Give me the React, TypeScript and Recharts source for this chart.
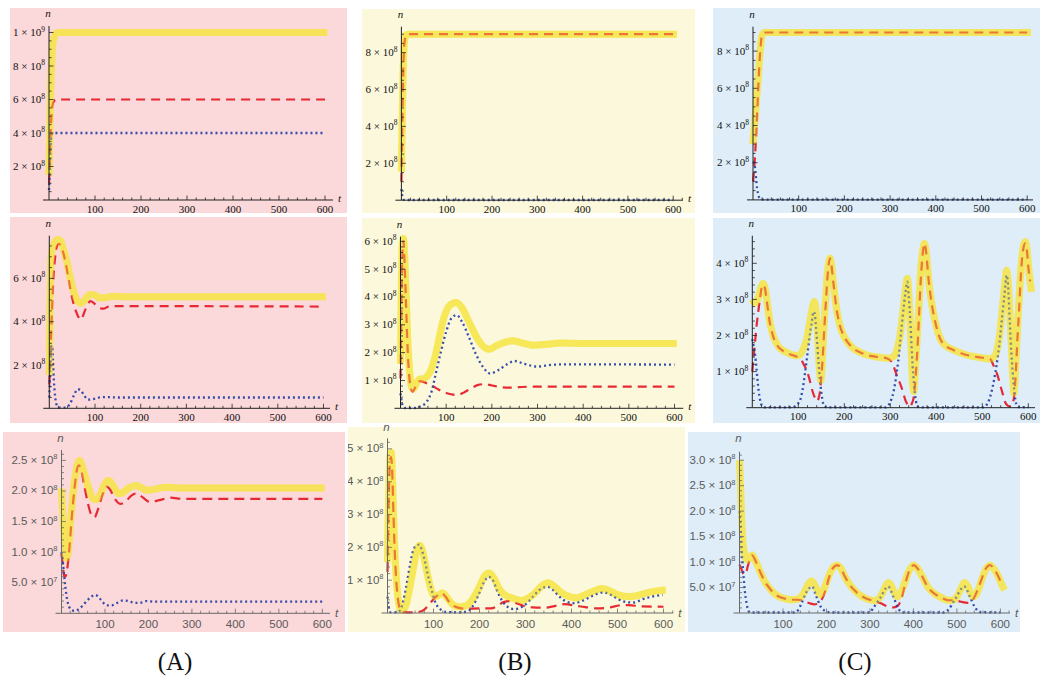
import React from 'react';
import { LineChart, Line, XAxis, YAxis } from 'recharts';

type Pt = [number, number];

// n is given in units of 1e8, t in time units.
// ---------- Column A, row 1 ----------
const A1_total: Pt[] = [[0,1.5],[1,2.8],[2,4.3],[3,5.6],[4,6.7],[5,7.6],[6,8.3],[7,8.8],[8,9.2],[10,9.6],[12,9.8],[15,9.93],[20,10],[30,10],[605,10]];
const A1_host: Pt[] = [[0,1.0],[2,2.5],[4,4.3],[6,5.3],[8,5.7],[11,5.9],[15,5.98],[20,6],[600,6]];
const A1_para: Pt[] = [[0,0.6],[1,1.3],[2,2.1],[3,2.9],[4,3.5],[5,3.8],[7,3.97],[10,4],[600,4]];
// ---------- Column B, row 1 ----------
const B1_total: Pt[] = [[0,1.55],[1,3.0],[2,4.6],[3,6.0],[4,7.1],[5,7.9],[6,8.4],[8,8.8],[10,8.95],[14,9.0],[608,9.0]];
const B1_host: Pt[] = [[0,1.0],[1,2.6],[2,4.2],[3,5.6],[4,6.8],[5,7.7],[6,8.3],[8,8.75],[10,8.92],[14,9.0],[600,9.0]];
const B1_para: Pt[] = [[0,0.6],[1,0.4],[2,0.2],[3,0.1],[5,0.03],[8,0.01],[600,0.01]];
// ---------- Column C, row 1 ----------
const C1_total: Pt[] = [[0,3.0],[4,4.2],[8,5.5],[12,6.8],[15,7.8],[18,8.6],[21,8.92],[25,9.0],[608,9.0]];
const C1_host: Pt[] = [[0,1.0],[3,1.8],[5,2.6],[7,3.5],[9,4.6],[12,6.3],[15,7.7],[18,8.6],[21,8.92],[25,9.0],[600,9.0]];
const C1_para: Pt[] = [[0,2.05],[3,1.95],[5,1.6],[7,1.1],[9,0.6],[11,0.35],[14,0.1],[18,0.02],[600,0.01]];
// ---------- Column A, row 2 ----------
const A2_total: Pt[] = [[0,1.55],[2,5.0],[4,6.9],[7,7.4],[12,7.65],[18,7.8],[24,7.75],[30,7.4],[38,6.8],[46,6.0],[54,5.35],[62,4.95],[70,4.85],[78,5.0],[88,5.25],[98,5.25],[110,5.1],[125,5.12],[140,5.18],[160,5.15],[605,5.15]];
const A2_host: Pt[] = [[0,1.1],[3,2.8],[6,4.6],[9,6.0],[13,7.0],[17,7.5],[21,7.6],[27,7.4],[34,6.9],[42,6.0],[50,5.1],[58,4.5],[66,4.15],[70,4.1],[76,4.4],[84,4.8],[90,4.95],[98,4.85],[108,4.65],[118,4.6],[130,4.7],[145,4.72],[600,4.7]];
const A2_para: Pt[] = [[0,0.5],[2,1.8],[4,2.7],[6,2.9],[8,2.2],[10,1.3],[13,0.5],[17,0.12],[22,0.03],[35,0.03],[45,0.2],[54,0.6],[62,0.88],[68,0.85],[76,0.6],[85,0.4],[95,0.42],[110,0.5],[125,0.52],[145,0.5],[600,0.5]];
// ---------- Column B, row 2 ----------
const B2_total: Pt[] = [[0,1.6],[2,4.5],[4,5.9],[6.5,6.1],[9,5.5],[12,4.2],[16,2.4],[20,1.3],[24,0.8],[28,0.7],[35,0.9],[42,1.05],[50,1.05],[58,1.15],[66,1.35],[75,1.8],[85,2.55],[95,3.25],[108,3.7],[122,3.8],[135,3.6],[150,3.1],[165,2.6],[180,2.25],[195,2.12],[210,2.25],[230,2.38],[245,2.43],[265,2.35],[290,2.27],[320,2.3],[350,2.35],[400,2.33],[605,2.33]];
const B2_host: Pt[] = [[0,1.07],[2,3.5],[4,5.5],[6.5,6.0],[9,5.2],[12,3.8],[16,2.0],[20,1.0],[24,0.65],[27,0.6],[32,0.75],[38,0.93],[43,0.98],[50,0.95],[60,0.88],[72,0.78],[85,0.66],[100,0.55],[115,0.49],[125,0.48],[140,0.58],[155,0.72],[170,0.84],[185,0.87],[200,0.82],[220,0.76],[240,0.74],[260,0.76],[290,0.78],[600,0.78]];
const B2_para: Pt[] = [[0,0.54],[3,0.2],[6,0.05],[10,0.01],[30,0.01],[45,0.08],[58,0.25],[68,0.6],[78,1.3],[88,2.0],[100,2.75],[112,3.25],[123,3.35],[135,3.1],[150,2.55],[165,1.95],[180,1.5],[196,1.25],[215,1.38],[235,1.6],[250,1.7],[270,1.6],[300,1.5],[330,1.56],[360,1.58],[600,1.57]];
// ---------- Column C, row 2 ----------
const C2_total: Pt[] = [[0,3.0],[3,2.93],[6,2.9],[10,2.95],[15,3.15],[20,3.38],[24,3.44],[28,3.3],[31,3.03],[35,2.65],[38,2.38],[42,2.15],[46,1.97],[52,1.8],[57,1.69],[65,1.6],[75,1.53],[86,1.47],[96,1.44],[104,1.47],[110,1.6],[118,1.88],[124,2.3],[129,2.66],[135,2.94],[139,2.6],[143,1.8],[146,1.1],[149,0.75],[152,1.3],[156,2.29],[160,3.1],[163,3.67],[166,4.0],[169,4.14],[172,3.95],[176,3.49],[183,2.75],[190,2.3],[198,2.01],[208,1.8],[220,1.64],[235,1.53],[249,1.46],[270,1.41],[292,1.37],[302,1.39],[310,1.45],[316,1.68],[321,1.98],[326,2.5],[330,2.94],[334,3.4],[337,3.58],[340,3.2],[344,2.1],[347,1.1],[351,0.45],[355,1.2],[359,2.1],[363,3.0],[366,3.77],[370,4.3],[374,4.55],[378,4.3],[383,3.58],[388,3.05],[393,2.66],[400,2.25],[408,1.92],[420,1.72],[437,1.6],[452,1.52],[466,1.46],[490,1.4],[517,1.35],[525,1.4],[530,1.5],[534,1.72],[538,2.05],[542,2.55],[546,3.05],[550,3.55],[553,3.81],[556,3.5],[560,2.57],[564,1.5],[569,0.4],[573,1.3],[576,2.1],[580,3.0],[583,3.67],[587,4.25],[593,4.6],[597,4.4],[600,3.95],[604,3.5],[607,3.21]];
const C2_host: Pt[] = [[0,1.0],[3,1.45],[6,1.83],[10,2.35],[13,2.66],[17,3.05],[20,3.3],[24,3.4],[28,3.28],[31,3.0],[35,2.63],[38,2.36],[42,2.13],[46,1.95],[52,1.78],[57,1.68],[65,1.59],[75,1.52],[86,1.46],[96,1.42],[104,1.37],[111,1.22],[118,1.04],[124,0.8],[129,0.54],[136,0.28],[141,0.18],[144,0.25],[147,0.44],[150,0.85],[153,1.37],[157,2.3],[160,2.94],[164,3.7],[169,4.14],[172,3.95],[176,3.49],[183,2.75],[190,2.3],[198,2.01],[208,1.8],[220,1.64],[235,1.53],[249,1.46],[270,1.41],[292,1.37],[303,1.27],[314,0.9],[325,0.54],[334,0.17],[339,0.06],[343,0.03],[347,0.12],[351,0.3],[355,0.85],[359,1.64],[363,2.7],[366,3.49],[370,4.2],[374,4.55],[378,4.3],[383,3.58],[388,3.05],[393,2.66],[400,2.25],[408,1.92],[420,1.72],[437,1.6],[452,1.52],[466,1.46],[490,1.4],[517,1.35],[524,1.18],[533,0.9],[542,0.49],[551,0.12],[556,0.05],[562,0.03],[566,0.12],[569,0.3],[573,1.0],[576,1.83],[580,2.7],[583,3.49],[587,4.2],[593,4.55],[597,4.35],[600,3.9],[604,3.5]];
const C2_para: Pt[] = [[0,1.9],[3,1.7],[6,1.46],[9,1.1],[11,0.81],[14,0.45],[17,0.21],[20,0.08],[22,0.03],[26,0.01],[88,0.01],[93,0.04],[98,0.1],[104,0.21],[109,0.48],[114,0.9],[119,1.4],[124,1.92],[129,2.35],[133,2.66],[136,2.6],[138,2.29],[141,1.8],[144,1.27],[147,0.8],[149,0.54],[152,0.25],[154,0.12],[158,0.03],[162,0.01],[290,0.01],[296,0.07],[302,0.22],[307,0.44],[312,0.8],[317,1.27],[322,1.9],[328,2.66],[333,3.2],[337,3.49],[340,3.1],[344,2.29],[347,1.5],[350,0.9],[353,0.45],[356,0.17],[359,0.05],[363,0.01],[503,0.01],[509,0.07],[515,0.22],[520,0.44],[526,0.8],[531,1.18],[537,1.75],[542,2.38],[548,3.1],[553,3.67],[556,3.4],[560,2.29],[563,1.55],[566,1.0],[569,0.55],[572,0.21],[575,0.07],[578,0.02],[600,0.01]];
// ---------- Column A, row 3 ----------
const A3_total: Pt[] = [[0,2.04],[3,1.6],[6,1.2],[9,0.95],[12,0.9],[16,1.05],[21,1.5],[27,1.98],[33,2.3],[38,2.47],[42,2.5],[47,2.42],[53,2.27],[60,2.1],[68,1.93],[76,1.86],[82,1.86],[90,1.95],[100,2.12],[108,2.17],[116,2.12],[124,2.02],[131,1.96],[140,1.97],[155,2.05],[172,2.09],[185,2.05],[197,2.01],[215,2.03],[240,2.06],[270,2.05],[300,2.05],[605,2.05]];
const A3_host: Pt[] = [[0,0.97],[3,0.78],[6,0.62],[9,0.6],[13,0.72],[18,1.05],[24,1.6],[30,2.05],[35,2.33],[40,2.42],[45,2.35],[52,2.1],[60,1.82],[68,1.62],[76,1.57],[84,1.7],[94,1.93],[104,2.07],[112,2.02],[122,1.88],[135,1.79],[148,1.83],[160,1.92],[173,1.96],[186,1.9],[204,1.82],[225,1.85],[250,1.89],[280,1.87],[600,1.87]];
const A3_para: Pt[] = [[0,1.0],[3,0.85],[6,0.62],[9,0.42],[13,0.22],[18,0.1],[24,0.05],[30,0.04],[38,0.06],[48,0.12],[58,0.2],[68,0.27],[78,0.3],[86,0.26],[95,0.18],[104,0.13],[115,0.13],[128,0.17],[142,0.21],[155,0.2],[168,0.17],[180,0.17],[195,0.2],[215,0.19],[600,0.19]];
// ---------- Column B, row 3 ----------
const B3_total: Pt[] = [[0,1.55],[2,3.2],[4,4.4],[6,4.85],[8,4.9],[11,4.0],[15,2.2],[19,1.1],[23,0.44],[27,0.15],[31,0.08],[36,0.12],[41,0.28],[46,0.6],[52,1.05],[58,1.5],[63,1.86],[70,2.06],[76,1.9],[82,1.5],[88,1.1],[95,0.7],[103,0.5],[112,0.56],[120,0.61],[128,0.5],[140,0.28],[155,0.19],[170,0.22],[185,0.42],[198,0.74],[212,1.15],[221,1.22],[232,1.05],[242,0.75],[255,0.55],[270,0.46],[290,0.38],[305,0.45],[320,0.6],[335,0.82],[348,0.92],[362,0.82],[378,0.62],[395,0.5],[412,0.46],[430,0.56],[450,0.68],[466,0.75],[482,0.68],[500,0.56],[520,0.5],[540,0.52],[560,0.6],[580,0.66],[605,0.7]];
const B3_host: Pt[] = [[0,1.25],[2,3.0],[4,4.2],[6,4.7],[8,4.75],[10,4.4],[13,3.0],[16,1.8],[20,0.8],[24,0.3],[28,0.08],[32,0.03],[60,0.02],[75,0.06],[88,0.22],[100,0.42],[110,0.55],[118,0.6],[126,0.5],[136,0.3],[150,0.18],[170,0.13],[200,0.14],[225,0.14],[240,0.22],[252,0.33],[265,0.36],[280,0.3],[295,0.22],[315,0.17],[340,0.16],[360,0.2],[385,0.27],[410,0.22],[430,0.18],[455,0.14],[480,0.16],[505,0.23],[525,0.24],[550,0.2],[600,0.19]];
const B3_para: Pt[] = [[0,0.5],[2,0.25],[4,0.08],[7,0.02],[22,0.02],[28,0.1],[34,0.34],[40,0.75],[45,1.15],[50,1.55],[55,1.86],[62,2.05],[69,2.08],[75,1.9],[81,1.6],[87,1.2],[92,0.92],[98,0.6],[103,0.36],[110,0.18],[118,0.08],[128,0.03],[160,0.02],[175,0.06],[185,0.2],[198,0.56],[210,0.95],[220,1.1],[228,1.02],[240,0.62],[250,0.36],[262,0.18],[275,0.12],[285,0.14],[300,0.26],[315,0.48],[330,0.7],[348,0.8],[360,0.7],[375,0.48],[390,0.34],[405,0.3],[425,0.38],[445,0.52],[470,0.63],[485,0.56],[502,0.42],[520,0.33],[535,0.32],[555,0.42],[575,0.5],[598,0.55]];
// ---------- Column C, row 3 ----------
const C3_total: Pt[] = [[0,3.0],[2,2.6],[4,2.05],[6,1.65],[9,1.3],[13,1.1],[19,1.04],[24,1.1],[29,1.14],[35,1.06],[42,0.92],[50,0.76],[58,0.62],[66,0.52],[78,0.4],[89,0.33],[105,0.28],[120,0.26],[133,0.27],[143,0.33],[152,0.46],[159,0.58],[166,0.63],[173,0.55],[180,0.42],[186,0.36],[192,0.42],[200,0.6],[210,0.82],[218,0.92],[225,0.94],[233,0.88],[242,0.72],[250,0.6],[265,0.44],[281,0.33],[296,0.27],[311,0.24],[322,0.3],[332,0.45],[342,0.6],[350,0.52],[356,0.4],[362,0.32],[368,0.35],[376,0.5],[386,0.75],[395,0.9],[401,0.94],[410,0.87],[420,0.72],[434,0.5],[450,0.37],[465,0.3],[480,0.25],[490,0.25],[500,0.32],[509,0.47],[517,0.6],[525,0.52],[531,0.4],[537,0.32],[543,0.35],[551,0.5],[561,0.75],[570,0.9],[576,0.94],[585,0.87],[595,0.72],[603,0.56],[610,0.45]];
const C3_host: Pt[] = [[0,0.95],[5,0.85],[10,0.76],[14,0.76],[19,0.92],[24,1.06],[29,1.13],[35,1.06],[42,0.92],[50,0.76],[58,0.62],[66,0.52],[78,0.4],[89,0.33],[105,0.28],[120,0.26],[133,0.26],[143,0.25],[152,0.22],[162,0.19],[172,0.17],[182,0.2],[190,0.28],[198,0.45],[206,0.7],[214,0.87],[225,0.94],[233,0.88],[242,0.72],[250,0.6],[265,0.44],[281,0.33],[296,0.27],[311,0.23],[325,0.19],[340,0.13],[355,0.11],[365,0.15],[373,0.3],[382,0.6],[392,0.86],[401,0.94],[410,0.87],[420,0.72],[434,0.5],[450,0.37],[465,0.3],[480,0.25],[495,0.25],[510,0.22],[525,0.2],[536,0.25],[545,0.4],[555,0.62],[565,0.85],[576,0.94],[585,0.87],[595,0.72],[604,0.54]];
const C3_para: Pt[] = [[0,2.0],[3,1.6],[6,1.1],[9,0.75],[12,0.45],[16,0.2],[20,0.06],[25,0.01],[125,0.01],[135,0.06],[143,0.2],[154,0.41],[167,0.52],[177,0.32],[187,0.12],[200,0.03],[210,0.01],[300,0.01],[307,0.09],[323,0.29],[342,0.52],[354,0.32],[365,0.09],[375,0.01],[470,0.01],[480,0.06],[495,0.26],[517,0.52],[530,0.32],[541,0.12],[553,0.02],[600,0.01]];

// ---------- tick labels ----------
const TICKS_2_10: number[] = [2, 4, 6, 8, 10];
const LABELS_2_10: string[] = ['2×10^8', '4×10^8', '6×10^8', '8×10^8', '1×10^9'];
const TICKS_2_8: number[] = [2, 4, 6, 8];
const LABELS_2_8: string[] = ['2×10^8', '4×10^8', '6×10^8', '8×10^8'];
const TICKS_2_6: number[] = [2, 4, 6];
const LABELS_2_6: string[] = ['2×10^8', '4×10^8', '6×10^8'];
const TICKS_1_6: number[] = [1, 2, 3, 4, 5, 6];
const LABELS_1_6: string[] = ['1×10^8', '2×10^8', '3×10^8', '4×10^8', '5×10^8', '6×10^8'];
const TICKS_1_4: number[] = [1, 2, 3, 4];
const LABELS_1_4: string[] = ['1×10^8', '2×10^8', '3×10^8', '4×10^8'];
const TICKS_1_5: number[] = [1, 2, 3, 4, 5];
const LABELS_1_5: string[] = ['1×10^8', '2×10^8', '3×10^8', '4×10^8', '5×10^8'];
const TICKS_H_25: number[] = [0.5, 1, 1.5, 2, 2.5];
const LABELS_H_25: string[] = ['5.0×10^7', '1.0×10^8', '1.5×10^8', '2.0×10^8', '2.5×10^8'];
const TICKS_H_30: number[] = [0.5, 1, 1.5, 2, 2.5, 3];
const LABELS_H_30: string[] = ['5.0×10^7', '1.0×10^8', '1.5×10^8', '2.0×10^8', '2.5×10^8', '3.0×10^8'];
const X_LABEL_STEP = 100;
const X_MINOR_STEP = 20;
const COLUMN_LABELS: string[] = ['(A)', '(B)', '(C)'];

const PINK = '#fbd8d9';
const CREAM = '#fcf8dc';
const SKY = '#deedf8';

const SERIF = "'Liberation Serif', 'Times New Roman', serif";
const SANS = "'Liberation Sans', Arial, sans-serif";

type Spec = {
  box: [number, number, number, number];
  bg: string;
  x0: number; y0: number; yTop: number; xRight: number; k: number; s: number;
  modern: boolean; showT: boolean;
  yMajor: number[]; yLabels: string[]; yMinor: number;
  total: Pt[]; host: Pt[]; para: Pt[];
};

const SPECS: Spec[] = [
  { box: [10, 8, 337, 205], bg: PINK, x0: 49, y0: 200, yTop: 26, xRight: 333, k: 46, s: 16.75, modern: false, showT: true, yMajor: TICKS_2_10, yLabels: LABELS_2_10, yMinor: 0.5, total: A1_total, host: A1_host, para: A1_para },
  { box: [362, 9, 333, 204], bg: CREAM, x0: 401.4, y0: 200.2, yTop: 26.7, xRight: 683, k: 45.3, s: 18.45, modern: false, showT: true, yMajor: TICKS_2_8, yLabels: LABELS_2_8, yMinor: 0.5, total: B1_total, host: B1_host, para: B1_para },
  { box: [713, 8, 327, 205], bg: SKY, x0: 753, y0: 199.9, yTop: 26.7, xRight: 1033, k: 45.7, s: 18.6, modern: false, showT: false, yMajor: TICKS_2_8, yLabels: LABELS_2_8, yMinor: 0.5, total: C1_total, host: C1_host, para: C1_para },
  { box: [10, 217, 337, 206], bg: PINK, x0: 49.3, y0: 408.3, yTop: 235.7, xRight: 330, k: 45.7, s: 21.65, modern: false, showT: true, yMajor: TICKS_2_6, yLabels: LABELS_2_6, yMinor: 0.5, total: A2_total, host: A2_host, para: A2_para },
  { box: [362, 218, 333, 205], bg: CREAM, x0: 400.5, y0: 408.3, yTop: 236.7, xRight: 683.3, k: 45.67, s: 27.83, modern: false, showT: true, yMajor: TICKS_1_6, yLabels: LABELS_1_6, yMinor: 0.2, total: B2_total, host: B2_host, para: B2_para },
  { box: [713, 218, 327, 205], bg: SKY, x0: 752.3, y0: 407.7, yTop: 235.7, xRight: 1035, k: 46, s: 36.1, modern: false, showT: false, yMajor: TICKS_1_4, yLabels: LABELS_1_4, yMinor: 0.2, total: C2_total, host: C2_host, para: C2_para },
  { box: [3, 432, 342, 200], bg: PINK, x0: 61.5, y0: 613.3, yTop: 450, xRight: 330, k: 43.47, s: 61.17, modern: true, showT: true, yMajor: TICKS_H_25, yLabels: LABELS_H_25, yMinor: 0.1, total: A3_total, host: A3_host, para: A3_para },
  { box: [348, 427, 337, 205], bg: CREAM, x0: 387.5, y0: 613, yTop: 438.3, xRight: 673.3, k: 46, s: 32.83, modern: true, showT: true, yMajor: TICKS_1_5, yLabels: LABELS_1_5, yMinor: 0.2, total: B3_total, host: B3_host, para: B3_para },
  { box: [688, 432, 332, 200], bg: SKY, x0: 739.5, y0: 613, yTop: 451.7, xRight: 1010, k: 43.48, s: 50.93, modern: true, showT: true, yMajor: TICKS_H_30, yLabels: LABELS_H_30, yMinor: 0.1, total: C3_total, host: C3_host, para: C3_para },
];

const rows = (pts: Pt[]) => pts.map(([t, n]) => ({ t, n }));

const EXTRA_BOTTOM = 5; // svg reaches a little outside the coloured panel so labels are not clipped
const EXTRA_TOP = 6;

function Panel({ spec }: { spec: Spec }) {
  const [bx, by, bw, bh] = spec.box;
  const tMax = ((spec.xRight - spec.x0) / spec.k) * 100;
  const nMax = (spec.y0 - spec.yTop) / spec.s;
  const xTicks: number[] = [];
  for (let v = 0; v <= tMax + 1e-9; v += X_MINOR_STEP) xTicks.push(v);
  const yTicks: number[] = [];
  for (let i = 1; i * spec.yMinor <= nMax + 1e-9; i++) yTicks.push(Math.round(i * spec.yMinor * 10000) / 10000);

  const axis = spec.modern ? '#6a6a6a' : '#222';
  const txt = spec.modern ? '#5a5a5a' : '#111';
  const font = spec.modern ? SANS : SERIF;
  const fs = spec.modern ? 11.5 : 11;
  const xLabDy = spec.modern ? 15 : 12.5;

  const xTick = (p: any) => {
    const { x, y, payload } = p;
    const v = payload.value as number;
    const major = Math.abs(v % X_LABEL_STEP) < 1e-6;
    return (
      <g>
        {v === 0 ? (
          <line x1={x - 6} y1={y} x2={x} y2={y} stroke={axis} strokeWidth={1} />
        ) : (
          <line x1={x} y1={y} x2={x} y2={y - (major ? 4.5 : 2.5)} stroke={axis} strokeWidth={0.8} />
        )}
        {major && v > 0 && (
          <text x={x} y={y + xLabDy} textAnchor="middle" fontFamily={font} fontSize={fs} fill={txt}>
            {v}
          </text>
        )}
      </g>
    );
  };

  const yTick = (p: any) => {
    const { x, y, payload } = p;
    const v = payload.value as number;
    const idx = spec.yMajor.findIndex((m) => Math.abs(m - v) < 1e-6);
    const major = idx >= 0;
    let lab: React.ReactNode = null;
    if (major) {
      const [m, e] = spec.yLabels[idx].split('×10^');
      lab = (
        <text x={x - 4} y={y + 3.5} textAnchor="end" fontFamily={font} fontSize={fs} fill={txt}>
          {m + ' × 10'}
          <tspan dy={-4.5} fontSize={7.5}>{e}</tspan>
        </text>
      );
    }
    return (
      <g>
        <line x1={x} y1={y} x2={x + (major ? 4.5 : 2.5)} y2={y} stroke={axis} strokeWidth={0.8} />
        {lab}
      </g>
    );
  };

  // baseline of the "n" label in svg coordinates (svg starts EXTRA_TOP above the panel)
  const nBase = Math.min(spec.yTop - (spec.modern ? 7 : 9), by + 10) - by + EXTRA_TOP;
  const nLabel = (p: any) => {
    const vb = p.viewBox || p;
    return (
      <text x={vb.x + vb.width - 1} y={nBase} textAnchor="middle" fontFamily={font} fontStyle="italic" fontSize={fs} fill={txt}>
        n
      </text>
    );
  };
  const tLabel = (p: any) => {
    const vb = p.viewBox || p;
    if (!spec.showT) return null;
    return (
      <text x={vb.x + vb.width + 5} y={vb.y + (spec.modern ? 4 : 2)} textAnchor="start" fontFamily={font} fontStyle="italic" fontSize={fs} fill={txt}>
        t
      </text>
    );
  };

  const red = '#e6202a';
  const blue = '#2a44a8';
  const yellow = '#f6e548';
  const totalRows = rows(spec.total);

  return (
    <div style={{ position: 'absolute', left: bx, top: by, width: bw, height: bh, background: spec.bg }}>
      <div style={{ position: 'absolute', left: 0, top: -EXTRA_TOP }}>
        <LineChart
          width={bw}
          height={bh + EXTRA_TOP + EXTRA_BOTTOM}
          margin={{ top: spec.yTop - by + EXTRA_TOP, right: bx + bw - spec.xRight, bottom: 0, left: 0 }}
        >
          <XAxis
            type="number"
            dataKey="t"
            domain={[0, tMax]}
            ticks={xTicks}
            interval={0}
            tickSize={0}
            tickMargin={0}
            height={by + bh + EXTRA_BOTTOM - spec.y0}
            axisLine={{ stroke: axis, strokeWidth: 1 }}
            tickLine={false}
            tick={xTick}
            label={tLabel}
          />
          <YAxis
            type="number"
            domain={[0, nMax]}
            ticks={yTicks}
            interval={0}
            tickSize={0}
            tickMargin={0}
            width={spec.x0 - bx}
            axisLine={{ stroke: axis, strokeWidth: 1 }}
            tickLine={false}
            tick={yTick}
            label={nLabel}
          />
          <Line data={totalRows} dataKey="n" type="monotone" stroke={yellow} strokeOpacity={0.8} strokeWidth={7} dot={false} activeDot={false} isAnimationActive={false} />
          <Line data={rows(spec.host)} dataKey="n" type="monotone" stroke={red} strokeOpacity={0.95} strokeWidth={2.2} strokeDasharray={spec.modern ? '10 6' : '9 6'} dot={false} activeDot={false} isAnimationActive={false} />
          <Line data={rows(spec.para)} dataKey="n" type="monotone" stroke={blue} strokeOpacity={0.95} strokeWidth={2.3} strokeDasharray="2 3" dot={false} activeDot={false} isAnimationActive={false} />
          {/* translucent glaze of the total curve: tints the lines lying inside it, as in the original */}
          <Line data={totalRows} dataKey="n" type="monotone" stroke={yellow} strokeOpacity={0.4} strokeWidth={7} dot={false} activeDot={false} isAnimationActive={false} />
        </LineChart>
      </div>
    </div>
  );
}

export default function App() {
  const centers = [175, 515, 855];
  return (
    <div style={{ position: 'absolute', left: 0, top: 0, width: 1040, height: 680, background: '#fff', overflow: 'hidden' }}>
      {SPECS.map((s, i) => (
        <Panel key={i} spec={s} />
      ))}
      {COLUMN_LABELS.map((l, i) => (
        <div
          key={l}
          style={{ position: 'absolute', left: centers[i] - 50, width: 100, top: 646, textAlign: 'center', fontFamily: SERIF, fontSize: 25, color: '#111', lineHeight: '32px' }}
        >
          {l}
        </div>
      ))}
    </div>
  );
}
